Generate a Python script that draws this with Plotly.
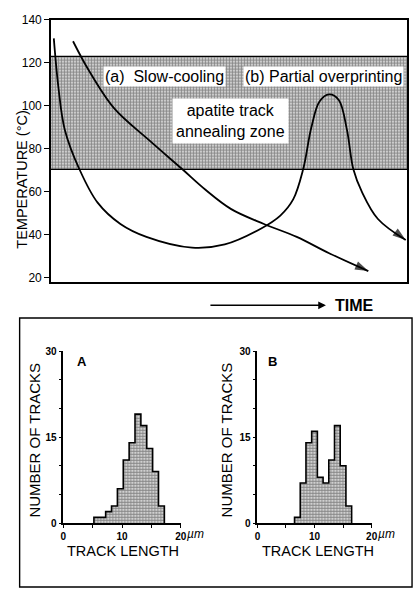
import plotly.graph_objects as go

# ---- data -------------------------------------------------------------
# thermal histories (time in arbitrary units 0-100, temperature in degC)
SLOW_T = [6.2, 10.4, 17.7, 27.7, 36.9, 43.3, 50.6, 59.8, 69.0, 78.1, 89.1]
SLOW_TEMP = [130.0, 117.1, 98.9, 83.8, 70.5, 61.1, 52.0, 45.1, 39.1, 31.5, 23.2]

OVER_T = [0.8, 2.1, 3.9, 8.0, 13.1, 19.5, 26.8, 39.6, 48.8, 58.9, 64.4, 68.0,
          70.8, 73.1, 75.4, 78.1, 80.8, 83.1, 84.9, 87.3, 91.8, 99.6]
OVER_TEMP = [131.3, 108.5, 88.8, 70.5, 55.0, 45.1, 39.1, 34.1, 35.6, 42.9, 49.0, 56.5,
             70.5, 89.9, 102.0, 105.3, 102.7, 88.8, 70.5, 60.0, 47.4, 37.6]

# apatite partial annealing zone limits (degC)
ZONE_LOW, ZONE_HIGH = 70.5, 123.0
TIME_SPAN = [0, 100]

TEMP_TICKS = [20, 40, 60, 80, 100, 120, 140]

# track-length histograms (1 um bins): bin centres and counts
A_LEN = [5.7, 6.7, 7.7, 8.7, 9.7, 10.7, 11.7, 12.7, 13.7, 14.7, 15.7, 16.7]
A_COUNT = [1, 1, 2, 3, 6, 11, 14, 19, 17, 13, 9, 3]

B_LEN = [7, 8, 9, 10, 11, 12, 13, 14, 15, 16]
B_COUNT = [1, 7, 14, 16, 8, 7, 11, 17, 10, 3]
BIN_W = 1.0

HIST_YTICKS = [0, 5, 10, 15, 20, 25, 30]
HIST_YLABELS = ["0", "", "", "15", "", "", "30"]
HIST_XTICKS = [0, 5, 10, 15, 20]
HIST_XLABELS = ["0", "", "10", "", "20"]

# ---- layout helpers ---------------------------------------------------
W, H = 420, 594
FONT = "Liberation Sans, Arial, sans-serif"


def px(x):
    return x / W


def py(y):
    return 1 - y / H


STIPPLE = dict(shape=".", size=3, solidity=0.7, fgcolor="#111111", bgcolor="white")

fig = go.Figure()

# annealing zone band
fig.add_trace(go.Scatter(x=TIME_SPAN, y=[ZONE_LOW] * 2, mode="lines",
                         line=dict(color="black", width=1.3), showlegend=False,
                         hoverinfo="skip"))
fig.add_trace(go.Scatter(x=TIME_SPAN, y=[ZONE_HIGH] * 2, mode="lines",
                         line=dict(color="black", width=1.3), fill="tonexty",
                         fillpattern=STIPPLE, fillcolor="white",
                         showlegend=False, hoverinfo="skip"))


def path_with_head(t, temp):
    sizes = [0] * (len(t) - 1) + [14]
    return go.Scatter(
        x=t, y=temp, mode="lines+markers",
        line=dict(color="black", width=1.8, shape="spline", smoothing=1.0),
        marker=dict(symbol="arrow", angleref="previous", size=sizes,
                    color="black", line=dict(width=0)),
        showlegend=False, hoverinfo="skip")


fig.add_trace(path_with_head(SLOW_T, SLOW_TEMP))
fig.add_trace(path_with_head(OVER_T, OVER_TEMP))


def step_outline(centres, counts, xa, ya):
    edges = [c - BIN_W / 2 for c in centres] + [centres[-1] + BIN_W / 2]
    xs = [edges[0]] + edges
    ys = [0] + list(counts) + [0]
    return go.Scatter(x=xs, y=ys, mode="lines", xaxis=xa, yaxis=ya,
                      line=dict(color="black", width=1.6, shape="hv"),
                      fill="tozeroy", fillpattern=STIPPLE, fillcolor="white",
                      showlegend=False, hoverinfo="skip")


fig.add_trace(step_outline(A_LEN, A_COUNT, "x2", "y2"))
fig.add_trace(step_outline(B_LEN, B_COUNT, "x3", "y3"))

# ---- axes -------------------------------------------------------------
tick_font = dict(family=FONT, size=12, color="black")
fig.update_layout(
    xaxis=dict(domain=[px(49), px(413)], range=TIME_SPAN, showline=True,
               linecolor="black", linewidth=1.6, mirror=True, showticklabels=False,
               ticks="", showgrid=False, zeroline=False, anchor="y"),
    yaxis=dict(domain=[py(281), py(13)], range=[18.2, 140], showline=True,
               linecolor="black", linewidth=1.6, mirror=True, tickvals=TEMP_TICKS,
               ticks="outside", ticklen=5, tickwidth=1.3, tickcolor="black",
               tickfont=tick_font, showgrid=False, zeroline=False, anchor="x"),
)

hist_tick_font = dict(family=FONT, size=10, color="black", weight="bold")
for xa, ya, x0, x1 in [("xaxis2", "yaxis2", 61.7, 181.7), ("xaxis3", "yaxis3", 260, 376.7)]:
    fig.update_layout({
        xa: dict(domain=[px(x0), px(x1)], range=[0, 20], showline=True,
                 linecolor="black", linewidth=1.6, tickvals=HIST_XTICKS,
                 ticktext=HIST_XLABELS, ticks="outside", ticklen=3, tickwidth=1.2,
                 tickcolor="black", tickfont=hist_tick_font, showgrid=False,
                 zeroline=False, anchor=ya.replace("axis", ""), fixedrange=True),
        ya: dict(domain=[py(527.7), py(351.7)], range=[0, 30], showline=True,
                 linecolor="black", linewidth=1.6, tickvals=HIST_YTICKS,
                 ticktext=HIST_YLABELS, ticks="outside", ticklen=3, tickwidth=1.2,
                 tickcolor="black", tickfont=hist_tick_font, showgrid=False,
                 zeroline=False, anchor=xa.replace("axis", ""), fixedrange=True),
    })

# ---- text -------------------------------------------------------------
ann = []


def label(x, y, text, size, **kw):
    d = dict(x=x, y=y, text=text, showarrow=False, xanchor="center",
             yanchor="middle", font=dict(family=FONT, size=size, color="black"))
    d.update(kw)
    ann.append(d)


label(31.9, 113.5, "(a)  Slow-cooling", 16, xref="x", yref="y", bgcolor="white",
      borderpad=1)
label(76.5, 113.5, "(b) Partial overprinting", 16, xref="x", yref="y",
      bgcolor="white", borderpad=1)
label(50.3, 93.0, "apatite track<br>annealing zone", 16, xref="x", yref="y",
      bgcolor="white", borderpad=3)
label(px(20), py(177), "TEMPERATURE (°C)", 14.5, xref="paper", yref="paper",
      textangle=-90)

# time arrow
ann.append(dict(x=px(330), y=py(305), xref="paper", yref="paper", text="",
                showarrow=True, ax=-117, ay=0, arrowhead=2, arrowsize=1.1,
                arrowwidth=1.4, arrowcolor="black"))
label(px(359), py(305), "TIME", 16, xref="paper", yref="paper",
      font=dict(family=FONT, size=16, color="black", weight="bold"))

for xc, yc in [(32, 443), (228, 443)]:
    label(px(xc), py(yc), "NUMBER OF TRACKS", 15, xref="paper", yref="paper",
          textangle=-90)
for xc in (123, 322):
    label(px(xc), py(556), "TRACK LENGTH", 14.5, xref="paper", yref="paper")
for xa in ("x2", "x3"):
    label(20, py(539), "<i>µm</i>", 12, xref=xa, yref="paper", xanchor="left",
          xshift=4)
label(3.2, 28.2, "A", 13, xref="x2", yref="y2",
      font=dict(family=FONT, size=13, color="black", weight="bold"))
label(2.7, 28.2, "B", 13, xref="x3", yref="y3",
      font=dict(family=FONT, size=13, color="black", weight="bold"))

fig.update_layout(
    annotations=ann,
    shapes=[dict(type="rect", xref="paper", yref="paper", x0=px(17), x1=px(418),
                 y0=py(593), y1=py(318), line=dict(color="black", width=1.4))],
    width=W, height=H, margin=dict(l=0, r=0, t=0, b=0),
    paper_bgcolor="white", plot_bgcolor="white",
    font=dict(family=FONT, color="black"),
)

fig.write_html("out.html")
